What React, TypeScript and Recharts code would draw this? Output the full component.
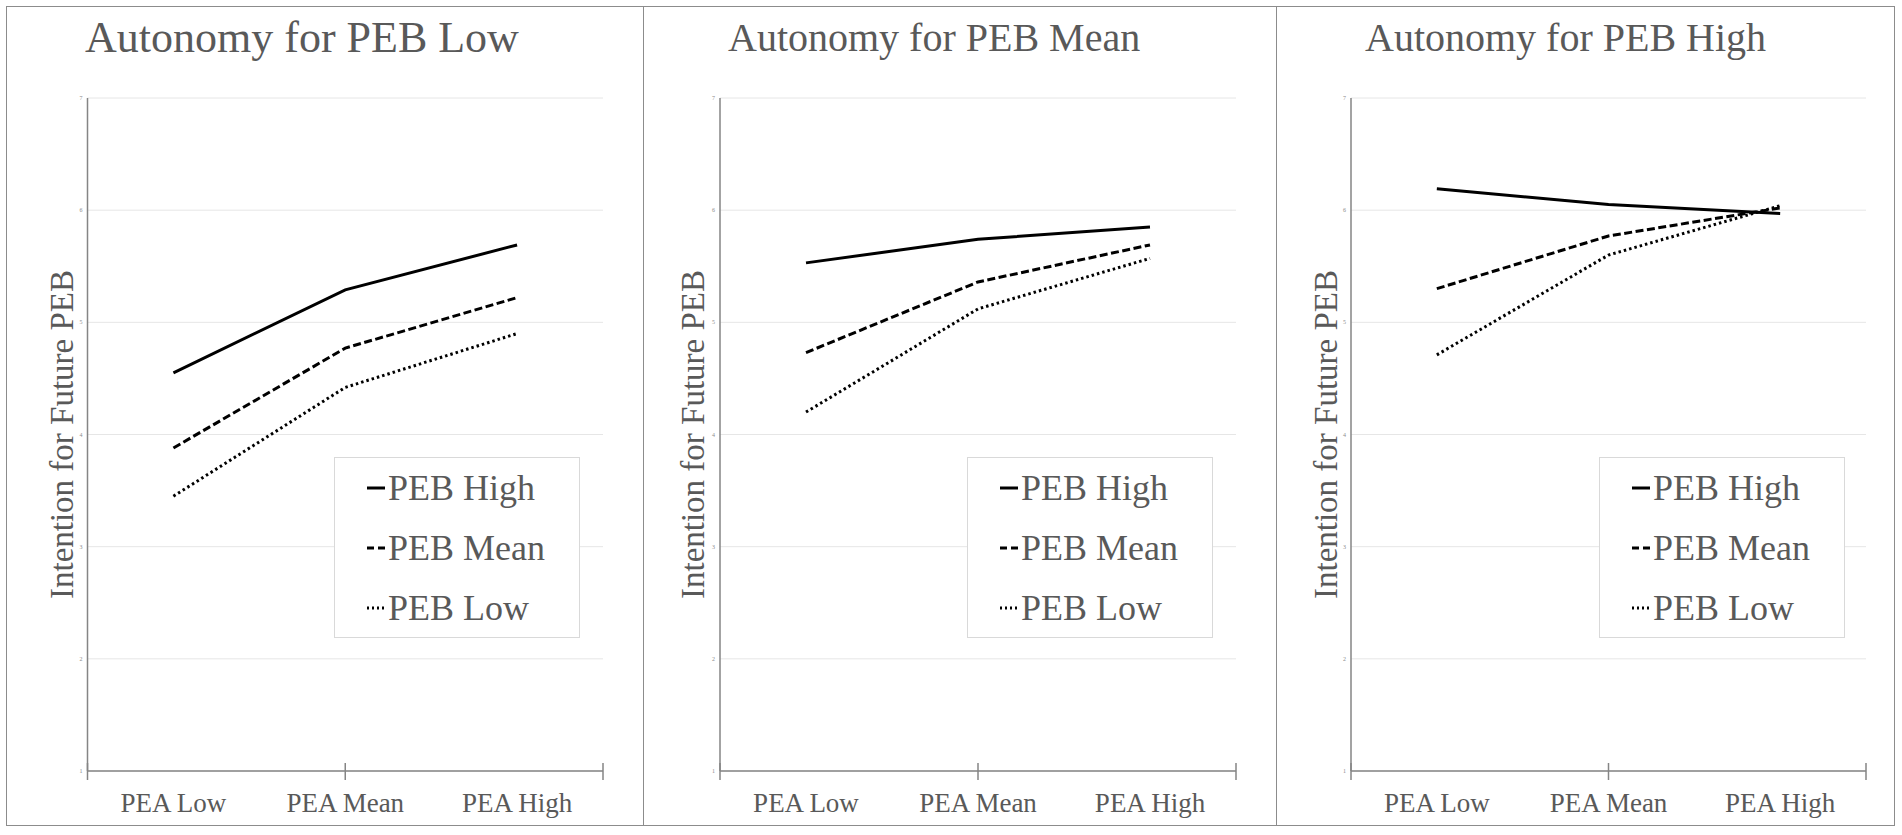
import React from 'react';
import { LineChart, Line, XAxis, YAxis, CartesianGrid, Legend } from 'recharts';

const FONT = "'Liberation Serif', Tinos, 'Times New Roman', Times, 'DejaVu Serif', serif";
const TEXT = '#595959';
const AXIS = '#858585';
const H = 835;
const PLOT_TOP = 98;
const PLOT_BOTTOM = 771;

const categories = ['PEA Low', 'PEA Mean', 'PEA High'];
const seriesNames = ['PEB High', 'PEB Mean', 'PEB Low'];
const yTicks = [1, 2, 3, 4, 5, 6, 7];
const cutTicks = [0, 1, 2, 3];
const titles = ['Autonomy for PEB Low', 'Autonomy for PEB Mean', 'Autonomy for PEB High'];
const yAxisTitle = 'Intention for Future PEB';

// Autonomy for PEB Low
const lowHigh = [4.55, 5.29, 5.69];
const lowMean = [3.88, 4.77, 5.22];
const lowLow = [3.45, 4.42, 4.9];

// Autonomy for PEB Mean
const meanHigh = [5.53, 5.74, 5.85];
const meanMean = [4.73, 5.36, 5.69];
const meanLow = [4.2, 5.12, 5.57];

// Autonomy for PEB High
const highHigh = [6.19, 6.05, 5.97];
const highMean = [5.3, 5.77, 6.02];
const highLow = [4.71, 5.6, 6.04];

const panelValues = [
  [lowHigh, lowMean, lowLow],
  [meanHigh, meanMean, meanLow],
  [highHigh, highMean, highLow],
];

const seriesStyle = [
  { key: 'high', dash: undefined, legendDash: undefined },
  { key: 'mean', dash: '8 3.5', legendDash: '7 4' },
  { key: 'low', dash: '2.5 3', legendDash: '2 3' },
];

// page layout of each panel
const panels = [
  { left: 6, width: 637, axisX: 87.5, labelX: 61, plotRight: 603, titleX: 85, titleTop: 16, titleSize: 44, legendX: 334 },
  { left: 643, width: 633, axisX: 720, labelX: 692, plotRight: 1236, titleX: 728, titleTop: 17.5, titleSize: 40, legendX: 967 },
  { left: 1276, width: 618, axisX: 1351, labelX: 1325.5, plotRight: 1866, titleX: 1365, titleTop: 17.5, titleSize: 40, legendX: 1599 },
];

const CutTick = (props: any) => (
  <line x1={props.x} x2={props.x} y1={props.y - 17} y2={props.y} stroke={AXIS} strokeWidth={1.5} />
);

const LegendBox = () => (
  <div
    style={{
      boxSizing: 'border-box',
      width: 246,
      height: 181,
      border: '1px solid #d9d9d9',
      background: '#fff',
      fontFamily: FONT,
    }}
  >
    {seriesNames.map((name, i) => (
      <div key={name} style={{ display: 'flex', alignItems: 'center', height: 60, paddingLeft: 32 }}>
        <svg width={18} height={4} style={{ marginRight: 3 }}>
          <line x1={0} x2={18} y1={2} y2={2} stroke="#000" strokeWidth={3} strokeDasharray={seriesStyle[i].legendDash} />
        </svg>
        <span style={{ fontSize: 36, lineHeight: '60px', color: TEXT, whiteSpace: 'nowrap' }}>{name}</span>
      </div>
    ))}
  </div>
);

const Panel = ({ index }: { index: number }) => {
  const p = panels[index];
  const values = panelValues[index];
  const rows = categories.map((pea, i) => ({
    pea,
    high: values[0][i],
    mean: values[1][i],
    low: values[2][i],
  }));
  const yw = 2 * (p.axisX - p.labelX);
  const ml = p.axisX - p.left - yw;
  const mr = p.left + p.width - p.plotRight;
  const pad = (p.plotRight - p.axisX) / (2 * categories.length);

  return (
    <div style={{ position: 'absolute', left: p.left, top: 0, width: p.width, height: H }}>
      <div
        style={{
          position: 'absolute',
          left: p.titleX - p.left,
          top: p.titleTop,
          fontFamily: FONT,
          fontSize: p.titleSize,
          lineHeight: 1,
          color: TEXT,
          whiteSpace: 'nowrap',
        }}
      >
        {titles[index]}
      </div>
      <LineChart
        width={p.width}
        height={H}
        data={rows}
        margin={{ top: PLOT_TOP, right: mr, bottom: H - PLOT_BOTTOM - 2, left: ml }}
        style={{ fontFamily: FONT }}
      >
        <CartesianGrid vertical={false} stroke="#e6e6e6" strokeWidth={1} />
        <XAxis
          dataKey="pea"
          padding={{ left: pad, right: pad }}
          height={1}
          interval={0}
          tickLine={false}
          tickSize={0}
          tickMargin={22}
          axisLine={{ stroke: AXIS, strokeWidth: 1.5 }}
          tick={{ fontSize: 27, fill: TEXT, fontFamily: FONT }}
        />
        <XAxis
          xAxisId="cuts"
          type="number"
          domain={[0, 3]}
          ticks={cutTicks}
          interval={0}
          allowDataOverflow
          height={1}
          axisLine={false}
          tickLine={false}
          tickSize={0}
          tickMargin={8}
          tick={CutTick}
        />
        <YAxis
          domain={[1, 7]}
          ticks={yTicks}
          interval={0}
          width={yw}
          tickLine={false}
          tickSize={3}
          tickMargin={2}
          axisLine={{ stroke: AXIS, strokeWidth: 1.5 }}
          tick={{ fontSize: 6, fill: '#8c8c8c', fontFamily: FONT }}
          label={{
            value: yAxisTitle,
            angle: -90,
            position: 'center',
            style: { fontSize: 33, fill: TEXT, fontFamily: FONT },
          }}
        />
        {seriesStyle.map((s, i) => (
          <Line
            key={s.key}
            type="linear"
            dataKey={s.key}
            name={seriesNames[i]}
            stroke="#000"
            strokeWidth={3}
            strokeDasharray={s.dash}
            dot={false}
            activeDot={false}
            isAnimationActive={false}
          />
        ))}
        <Legend
          verticalAlign="middle"
          align="center"
          layout="horizontal"
          wrapperStyle={{ left: p.legendX - p.left, top: 457, width: 246, height: 181 }}
          content={() => <LegendBox />}
        />
      </LineChart>
    </div>
  );
};

export default function App() {
  return (
    <div style={{ position: 'absolute', left: 0, top: 0, width: 1902, height: H, background: '#fff' }}>
      {panels.map((_, i) => (
        <Panel key={i} index={i} />
      ))}
      <div
        style={{
          position: 'absolute',
          left: 6,
          top: 6,
          width: 1888.5,
          height: 820,
          border: '1.5px solid #8c8c8c',
          boxSizing: 'border-box',
          pointerEvents: 'none',
        }}
      />
      <div style={{ position: 'absolute', left: 642.5, top: 6, width: 1.5, height: 820, background: '#8c8c8c' }} />
      <div style={{ position: 'absolute', left: 1275.5, top: 6, width: 1.5, height: 820, background: '#8c8c8c' }} />
    </div>
  );
}
